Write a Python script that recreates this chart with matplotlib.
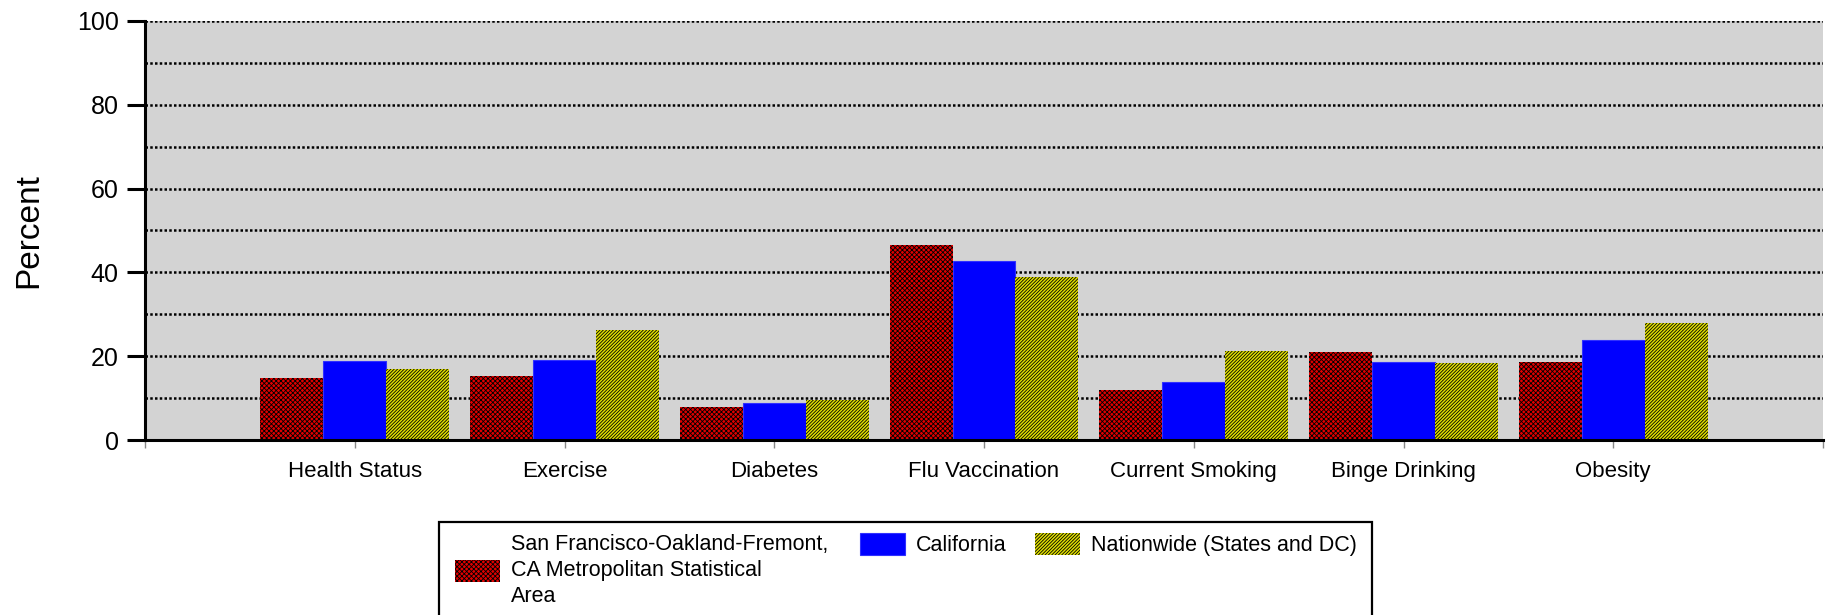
import numpy as np
import matplotlib
matplotlib.use('Agg')
import matplotlib.pyplot as plt
from matplotlib.patches import Rectangle

plt.rcParams['font.family'] = ['Liberation Sans', 'DejaVu Sans']
plt.rcParams['hatch.linewidth'] = 0.6

# data
categories = ['Health Status', 'Exercise', 'Diabetes', 'Flu Vaccination',
              'Current Smoking', 'Binge Drinking', 'Obesity']
msa = [14.9, 15.2, 7.8, 46.5, 11.9, 20.9, 18.7]
california = [18.8, 19.1, 8.8, 42.8, 13.8, 18.7, 23.8]
nationwide = [17.0, 26.3, 9.5, 38.8, 21.3, 18.4, 27.9]
series_names = ['San Francisco-Oakland-Fremont,\nCA Metropolitan Statistical\nArea',
                'California', 'Nationwide (States and DC)']

fig = plt.figure(figsize=(18.3, 6.15), dpi=100)
ax = fig.add_axes([145/1830, 1 - 440/615, 1678/1830, 419/615])
ax.set_facecolor('#d3d3d3')

x = np.arange(len(categories))
w = 0.3
b1 = ax.bar(x - w, msa, w, color='#e00000', edgecolor='black', linewidth=0,
            hatch='xxxxxxx', label=series_names[0])
b2 = ax.bar(x, california, w, color='#0000ff', edgecolor='#3030ff', linewidth=0.8,
            label=series_names[1])
b3 = ax.bar(x + w, nationwide, w, color='#e0e000', edgecolor='black', linewidth=0,
            hatch='//////////', label=series_names[2])

# axes
ax.set_xlim(-1, len(categories))
ax.set_ylim(0, 100)
ax.set_yticks(np.arange(0, 101, 20))
ax.set_yticks(np.arange(10, 100, 20), minor=True)
ax.tick_params(axis='y', which='major', length=13, width=2.2, labelsize=18, pad=6)
ax.tick_params(axis='y', which='minor', length=0)
ax.set_xticks(np.arange(-1, len(categories) + 1))
ax.set_xticklabels([''] + categories + [''])
ax.tick_params(axis='x', length=6, width=1, color='#888888', labelsize=16, pad=9)

ax.grid(axis='y', which='both', color='black', linestyle=(0, (1, 0.9)), linewidth=1.8)
ax.set_axisbelow(True)

for s in ['top', 'right']:
    ax.spines[s].set_visible(False)
ax.spines['left'].set_linewidth(2.2)
ax.spines['bottom'].set_linewidth(2.2)

ax.set_ylabel('Percent', fontsize=24)
ax.yaxis.set_label_coords((44 - 145) / 1678, 0.5)

# legend box, runs off the bottom of the figure like the original
fig.add_artist(Rectangle((439/1830, -0.05), (1372 - 439)/1830, 1 - 522/615 + 0.05,
                         transform=fig.transFigure, fill=False, edgecolor='black',
                         linewidth=1.6))
leg_kw = dict(loc='upper left', bbox_transform=fig.transFigure, frameon=False,
              fontsize=15.5, borderpad=0, borderaxespad=0, handlelength=2.1,
              handleheight=1.2, handletextpad=0.5)
leg1 = fig.legend(handles=[b1], bbox_to_anchor=(455/1830, 1 - 534/615), **leg_kw)
for t in leg1.get_texts():
    t.set_linespacing(1.3)
leg2 = fig.legend(handles=[b2, b3], ncol=2, columnspacing=1.3,
                  bbox_to_anchor=(860/1830, 1 - 533/615), **leg_kw)

fig.savefig('out.png', dpi=100)
